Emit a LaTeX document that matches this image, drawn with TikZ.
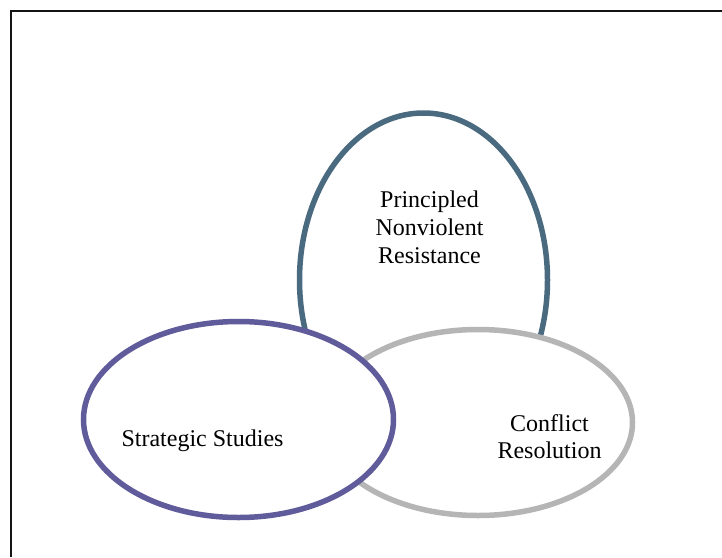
\documentclass[tikz,border=0pt]{standalone}
\usepackage{fontspec}
\setmainfont{Liberation Serif}
\definecolor{pnrline}{RGB}{74,106,128}
\definecolor{ssline}{RGB}{96,91,154}
\definecolor{crline}{RGB}{181,181,181}
\definecolor{frameline}{RGB}{20,20,20}
\begin{document}
\begin{tikzpicture}[x=1pt,y=-1pt,
  ring/.style={line width=5.5pt,fill=white},
  lbl/.style={anchor=base,inner sep=0pt,font=\fontsize{24}{28}\selectfont}]
\useasboundingbox (0,0) rectangle (722,557);
% page frame, open to the right and bottom
\draw[frameline,line width=2pt] (10.5,557) -- (10.5,10.5) -- (722,10.5);
% the three fields, back to front
\draw[ring,draw=pnrline] (423.5,280) ellipse [x radius=124, y radius=167];
\draw[ring,draw=crline] (478,422.5) ellipse [x radius=154.5, y radius=93];
\draw[ring,draw=ssline] (238.5,419.5) ellipse [x radius=155, y radius=98];
% labels
\node[lbl] (p1) at (429.5,207.3) {Principled};
\node[lbl] (p2) at (429.5,235.3) {Nonviolent};
\node[lbl] (p3) at (429.5,263.3) {Resistance};
\node[lbl] (s1) at (202.5,446.7) {Strategic Studies};
\node[lbl] (c1) at (549.5,431) {Conflict};
\node[lbl] (c2) at (549.5,458.5) {Resolution};
\end{tikzpicture}
\end{document}
